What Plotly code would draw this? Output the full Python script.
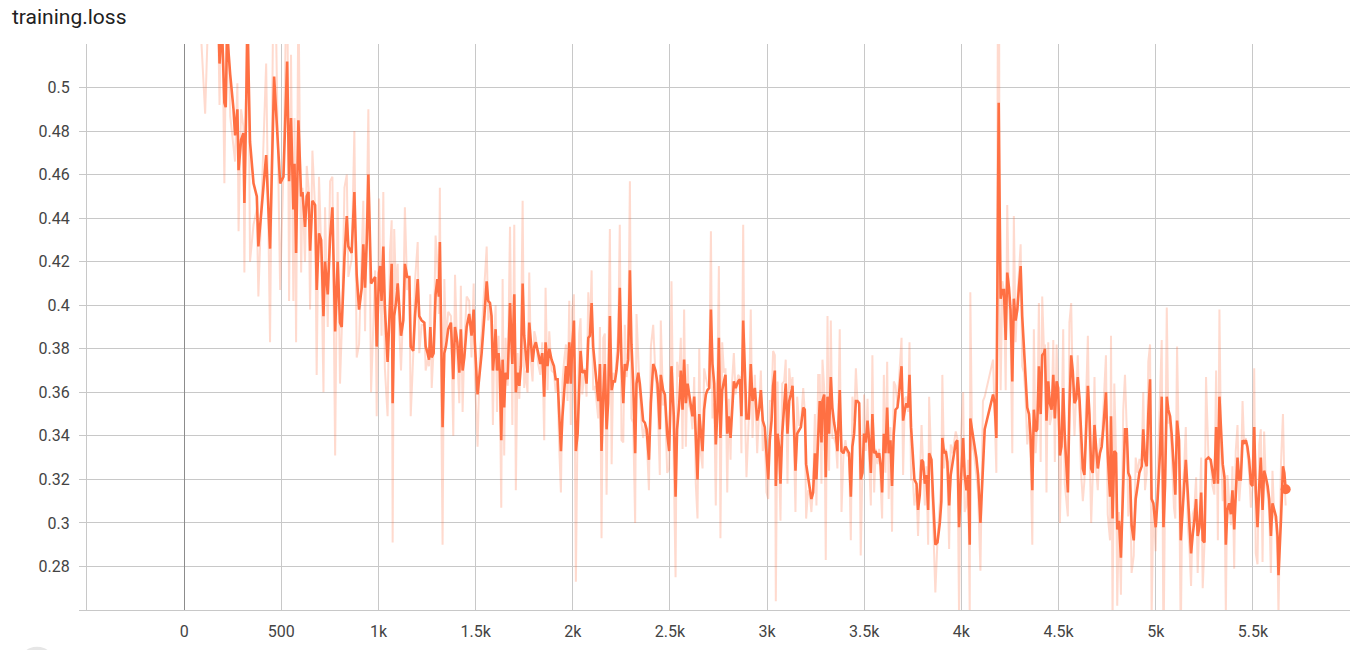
import plotly.graph_objects as go

# ---- data ----
steps_a = [20, 60, 108, 140, 160]
smooth_a = [0.62, 0.59, 0.55, 0.548, 0.54]
raw_a = [0.62, 0.57, 0.488, 0.58, 0.555]

steps_b = [177,182,194,207,214,221,237,254,262,274,280,293,305,310,317,326,339,357,374,382,
           422,442,463,494,511,530,540,550,562,568,576,588,602,609,622,631,640,648,660,674,
           682,694,705,717,725,739,751,763,777,790,802,811,825,837,845,862,876,888,900,914,
           922,931,940,948,962,983,991,1003]
smooth_b = [0.530,0.511,0.530,0.493,0.491,0.525,0.506,0.490,0.478,0.490,0.462,0.476,0.479,0.447,0.480,0.530,0.475,0.456,0.450,0.427,
            0.469,0.426,0.505,0.456,0.459,0.512,0.457,0.486,0.444,0.465,0.424,0.485,0.450,0.452,0.436,0.450,0.452,0.425,0.448,0.446,
            0.407,0.433,0.430,0.395,0.420,0.405,0.431,0.445,0.388,0.420,0.392,0.390,0.422,0.441,0.427,0.424,0.452,0.414,0.398,0.408,
            0.428,0.408,0.430,0.460,0.410,0.413,0.381,0.415]
raw_b = [0.520,0.492,0.549,0.456,0.489,0.559,0.487,0.474,0.466,0.502,0.434,0.490,0.482,0.415,0.513,0.580,0.420,0.437,0.444,0.404,
         0.511,0.383,0.584,0.407,0.462,0.565,0.402,0.515,0.402,0.486,0.383,0.546,0.415,0.454,0.420,0.464,0.454,0.398,0.471,0.444,
         0.368,0.459,0.427,0.360,0.445,0.390,0.457,0.459,0.331,0.452,0.364,0.388,0.454,0.460,0.413,0.421,0.480,0.376,0.382,0.418,
         0.448,0.388,0.452,0.490,0.360,0.416,0.349,0.449]

steps_c = [1008,1016,1025,1033,1047,1059,1068,1073,1081,1090,1099,1105,1116,1128,1136,1148,1159,1166,1179,1188,
           1202,1210,1222,1236,1243,1253,1260,1267,1274,1284,1294,1303,1311,1316,1322,1330,1339,1347,1359,1373,
           1385,1394,1406,1416,1424,1433,1442,1454,1467,1479,1490,1496,1510,1522,1531,1545,1557,1565,1574,1582,
           1589,1596,1603,1610,1618,1625,1632,1639,1647,1654,1665,1677,1689,1699,1707,1716,1725,1733,1742,1750,
           1757,1767,1776,1785,1793,1802,1810,1822,1833,1843,1853,1860,1870,1879,1891,1903,1912,1922,1929]
smooth_c = [0.418,0.402,0.427,0.399,0.374,0.399,0.419,0.355,0.395,0.401,0.410,0.402,0.386,0.393,0.419,0.413,0.413,0.381,0.379,0.395,
            0.412,0.395,0.393,0.392,0.381,0.378,0.375,0.390,0.376,0.378,0.405,0.412,0.404,0.429,0.398,0.344,0.378,0.381,0.389,0.392,
            0.366,0.390,0.383,0.369,0.389,0.370,0.376,0.390,0.396,0.386,0.398,0.383,0.359,0.369,0.378,0.395,0.411,0.402,0.401,0.395,
            0.370,0.378,0.389,0.370,0.378,0.369,0.338,0.375,0.353,0.369,0.366,0.401,0.373,0.405,0.360,0.369,0.363,0.372,0.410,0.386,
            0.378,0.369,0.392,0.383,0.374,0.381,0.383,0.378,0.373,0.378,0.358,0.383,0.372,0.380,0.375,0.372,0.366,0.366,0.352]
raw_c = [0.421,0.386,0.452,0.371,0.349,0.424,0.439,0.291,0.435,0.407,0.419,0.394,0.370,0.400,0.445,0.407,0.413,0.349,0.377,0.411,
         0.429,0.378,0.391,0.391,0.370,0.375,0.372,0.405,0.362,0.380,0.432,0.419,0.396,0.454,0.367,0.290,0.412,0.384,0.397,0.395,
         0.340,0.414,0.376,0.355,0.409,0.351,0.382,0.404,0.402,0.376,0.410,0.368,0.335,0.379,0.387,0.412,0.427,0.393,0.400,0.389,
         0.345,0.386,0.400,0.351,0.386,0.360,0.307,0.412,0.331,0.385,0.363,0.436,0.345,0.437,0.315,0.378,0.357,0.381,0.448,0.362,
         0.370,0.360,0.415,0.374,0.365,0.388,0.385,0.373,0.368,0.383,0.338,0.408,0.361,0.388,0.370,0.369,0.360,0.366,0.338]

steps_d = [1939,1947,1956,1965,1973,1982,1990,1997,2006,2016,2025,2033,2040,2049,2062,2071,2080,2088,2097,2105,
           2114,2122,2131,2140,2148,2157,2165,2174,2182,2191,2200,2208,2217,2225,2234,2242,2251,2260,2268,2277,
           2285,2294,2302,2311,2321,2328,2337,2345,2354,2362,2371,2380,2392,2402,2414,2426,2436,2448,2453,2465,
           2474,2486,2496,2508,2520,2529,2537,2548,2556,2565,2573,2582,2591,2599,2608,2616,2625,2633,2642,2651,
           2659,2668,2676,2685,2693,2702,2711,2719,2728,2736,2745,2752,2760,2769,2778,2786,2795,2803,2812,2820,
           2829,2838,2851]
smooth_d = [0.333,0.349,0.362,0.372,0.364,0.383,0.364,0.381,0.393,0.333,0.341,0.364,0.379,0.369,0.370,0.364,0.385,0.386,0.401,0.381,
            0.372,0.364,0.356,0.373,0.333,0.359,0.373,0.343,0.355,0.395,0.361,0.365,0.365,0.370,0.379,0.408,0.373,0.355,0.373,0.370,
            0.375,0.416,0.382,0.364,0.332,0.364,0.369,0.364,0.355,0.347,0.346,0.343,0.329,0.355,0.373,0.370,0.364,0.343,0.368,0.361,
            0.359,0.341,0.333,0.372,0.349,0.312,0.343,0.355,0.370,0.352,0.375,0.355,0.364,0.359,0.355,0.349,0.358,0.338,0.320,0.350,
            0.341,0.333,0.352,0.359,0.361,0.362,0.398,0.373,0.364,0.336,0.352,0.385,0.339,0.361,0.365,0.368,0.341,0.349,0.339,0.352,
            0.365,0.362,0.365]
raw_d = [0.314,0.365,0.375,0.382,0.356,0.402,0.345,0.398,0.405,0.273,0.349,0.387,0.394,0.359,0.371,0.358,0.406,0.387,0.416,0.361,
         0.363,0.356,0.348,0.390,0.293,0.385,0.387,0.313,0.367,0.435,0.327,0.369,0.365,0.375,0.388,0.437,0.338,0.337,0.391,0.367,
         0.380,0.457,0.348,0.346,0.300,0.396,0.374,0.359,0.346,0.339,0.345,0.340,0.315,0.381,0.391,0.367,0.358,0.322,0.393,0.354,
         0.357,0.323,0.325,0.411,0.326,0.275,0.374,0.367,0.385,0.334,0.398,0.335,0.373,0.354,0.351,0.343,0.367,0.318,0.302,0.380,
         0.332,0.325,0.371,0.366,0.363,0.363,0.434,0.348,0.355,0.308,0.368,0.418,0.293,0.383,0.369,0.371,0.314,0.357,0.329,0.365,
         0.378,0.359,0.368]

steps_e = [2860,2868,2877,2885,2894,2906,2916,2925,2937,2949,2959,2968,2978,2988,2997,3006,3014,3023,3031,3040,
           3045,3054,3062,3069,3078,3088,3096,3105,3114,3122,3131,3139,3146,3155,3165,3174,3186,3194,3201,3211,
           3220,3228,3237,3246,3254,3263,3271,3280,3285,3294,3302,3311,3319,3328,3336,3345,3354,3362,3374,3383,
           3393,3403,3414,3422,3431,3439,3448,3457,3465,3474,3482,3491,3499,3508,3517,3525,3534,3542,3551,3559,
           3568,3577,3585,3592,3601,3609,3618,3626,3635,3643,3652,3661,3671,3679,3692,3700,3709,3717,3726,3733,
           3741,3750,3758,3769,3777]
smooth_e = [0.366,0.349,0.393,0.375,0.348,0.348,0.373,0.356,0.362,0.347,0.352,0.361,0.347,0.344,0.329,0.320,0.338,0.347,0.363,0.370,
            0.317,0.341,0.335,0.318,0.341,0.353,0.364,0.341,0.356,0.359,0.363,0.343,0.324,0.341,0.343,0.344,0.353,0.352,0.327,0.321,
            0.317,0.311,0.314,0.332,0.320,0.344,0.356,0.337,0.356,0.359,0.321,0.358,0.341,0.367,0.353,0.346,0.341,0.333,0.361,0.333,
            0.332,0.335,0.333,0.332,0.312,0.335,0.341,0.356,0.356,0.355,0.320,0.323,0.341,0.337,0.347,0.338,0.323,0.350,0.332,0.333,
            0.330,0.332,0.326,0.314,0.341,0.332,0.353,0.332,0.338,0.317,0.341,0.352,0.353,0.359,0.372,0.347,0.352,0.355,0.353,0.368,
            0.344,0.332,0.320,0.318,0.306]
raw_e = [0.367,0.332,0.437,0.357,0.321,0.348,0.398,0.339,0.368,0.332,0.357,0.370,0.333,0.341,0.314,0.311,0.356,0.356,0.379,0.377,
         0.264,0.365,0.329,0.301,0.364,0.365,0.375,0.318,0.371,0.362,0.367,0.323,0.305,0.358,0.345,0.345,0.362,0.351,0.302,0.315,
         0.313,0.305,0.317,0.350,0.308,0.368,0.368,0.318,0.375,0.362,0.283,0.395,0.324,0.393,0.339,0.339,0.336,0.325,0.389,0.305,
         0.331,0.338,0.331,0.331,0.292,0.358,0.347,0.371,0.356,0.354,0.285,0.326,0.359,0.333,0.357,0.329,0.308,0.377,0.314,0.334,
         0.327,0.334,0.320,0.302,0.368,0.323,0.374,0.311,0.344,0.296,0.365,0.363,0.354,0.365,0.385,0.322,0.357,0.358,0.351,0.383,
         0.320,0.320,0.308,0.316,0.294]

steps_f = [3786,3795,3803,3812,3820,3829,3834,3846,3854,3866,3877,3889,3897,3902,3911,3920,3928,3937,3945,3954,
           3962,3971,3979,3988,3997,4009,4017,4026,4034,4043,4046,4055,4065,4077,4086,4098,4111,4120,4163,4171,
           4180,4192,4197,4202,4211,4219,4228,4236,4245,4253,4262,4270,4279,4288,4296,4305,4313,4322,4330,4339,
           4348,4356,4365,4373,4382,4390,4399,4408,4416,4425,4430,4438,4447,4455,4464,4473,4481,4490,4498,4507,
           4515,4524,4532,4541,4548,4556,4565,4573,4582,4591,4599,4608,4616,4625,4633,4642,4651,4659,4668,4676,
           4685,4693,4702]
smooth_f = [0.313,0.329,0.328,0.318,0.322,0.306,0.332,0.329,0.312,0.290,0.291,0.300,0.310,0.339,0.332,0.333,0.328,0.308,0.322,0.327,
            0.332,0.337,0.338,0.298,0.318,0.339,0.322,0.315,0.322,0.290,0.348,0.342,0.337,0.330,0.322,0.300,0.328,0.343,0.359,0.355,
            0.339,0.493,0.445,0.403,0.407,0.407,0.384,0.415,0.408,0.398,0.365,0.403,0.393,0.398,0.408,0.418,0.395,0.382,0.370,0.353,
            0.350,0.340,0.315,0.352,0.342,0.343,0.372,0.350,0.377,0.378,0.380,0.347,0.365,0.355,0.352,0.368,0.348,0.365,0.362,0.331,
            0.335,0.362,0.340,0.325,0.314,0.353,0.377,0.370,0.355,0.357,0.367,0.357,0.340,0.325,0.322,0.340,0.363,0.350,0.325,0.323,
            0.345,0.335,0.325]
raw_f = [0.320,0.345,0.327,0.308,0.326,0.290,0.358,0.326,0.295,0.268,0.292,0.309,0.320,0.368,0.325,0.334,0.323,0.288,0.336,0.332,
         0.337,0.342,0.339,0.258,0.338,0.360,0.305,0.308,0.329,0.258,0.406,0.336,0.332,0.323,0.314,0.278,0.356,0.358,0.375,0.351,
         0.323,0.647,0.397,0.361,0.411,0.407,0.361,0.446,0.401,0.388,0.332,0.441,0.383,0.403,0.418,0.428,0.372,0.369,0.358,0.336,
         0.347,0.330,0.290,0.389,0.332,0.344,0.401,0.328,0.404,0.379,0.382,0.314,0.383,0.345,0.349,0.384,0.328,0.382,0.359,0.300,
         0.339,0.389,0.318,0.310,0.303,0.392,0.401,0.363,0.340,0.359,0.377,0.347,0.323,0.310,0.319,0.358,0.386,0.337,0.300,0.321,
         0.367,0.325,0.315]

steps_g = [4713,4722,4730,4744,4753,4765,4770,4778,4787,4796,4802,4811,4821,4833,4842,4851,4859,4868,4876,4887,
           4897,4907,4916,4928,4936,4945,4954,4962,4971,4979,4988,5000,5010,5022,5031,5040,5048,5057,5065,5074,
           5082,5094,5101,5110,5120,5129,5137,5146,5155,5165,5174,5182,5191,5199,5208,5216,5225,5234,5242,5251,
           5259,5271,5283,5292,5302,5311,5320,5328,5337,5345,5354,5361,5369,5378,5387,5395,5404,5412,5421,5430,
           5438,5447,5455,5464,5472,5481,5490,5498,5507,5515,5524,5533,5541,5550,5558,5567,5576,5584,5593,5601,
           5610,5619,5627,5632,5645,5655,5662,5669]
smooth_g = [0.332,0.335,0.343,0.360,0.332,0.312,0.349,0.302,0.333,0.332,0.297,0.301,0.284,0.318,0.343,0.343,0.323,0.321,0.299,0.292,
            0.311,0.317,0.323,0.326,0.343,0.329,0.326,0.350,0.366,0.311,0.309,0.298,0.311,0.332,0.358,0.298,0.317,0.358,0.352,0.349,
            0.341,0.324,0.313,0.347,0.338,0.292,0.303,0.314,0.329,0.314,0.301,0.286,0.295,0.301,0.311,0.294,0.298,0.314,0.292,0.291,
            0.329,0.330,0.329,0.323,0.318,0.344,0.318,0.358,0.344,0.327,0.321,0.290,0.306,0.309,0.304,0.315,0.297,0.315,0.330,0.320,
            0.320,0.338,0.337,0.338,0.335,0.329,0.318,0.317,0.344,0.315,0.298,0.317,0.330,0.306,0.324,0.321,0.317,0.311,0.294,0.309,
            0.306,0.303,0.294,0.276,0.302,0.326,0.323,0.3155]
raw_g = [0.339,0.338,0.351,0.377,0.304,0.292,0.386,0.255,0.364,0.331,0.262,0.305,0.267,0.352,0.368,0.343,0.303,0.319,0.277,0.285,
         0.330,0.323,0.329,0.329,0.360,0.315,0.323,0.374,0.382,0.256,0.307,0.287,0.324,0.353,0.384,0.238,0.336,0.399,0.346,0.346,
         0.333,0.307,0.302,0.381,0.329,0.246,0.314,0.325,0.344,0.299,0.288,0.271,0.304,0.307,0.321,0.277,0.302,0.330,0.270,0.290,
         0.367,0.331,0.328,0.317,0.313,0.370,0.292,0.398,0.330,0.310,0.315,0.259,0.322,0.312,0.299,0.326,0.279,0.333,0.345,0.310,
         0.320,0.356,0.336,0.339,0.332,0.323,0.307,0.316,0.371,0.286,0.281,0.336,0.343,0.282,0.342,0.318,0.313,0.305,0.277,0.324,
         0.303,0.300,0.285,0.258,0.328,0.350,0.320,0.308]

steps = steps_a + steps_b + steps_c + steps_d + steps_e + steps_f + steps_g
smoothed = smooth_a + smooth_b + smooth_c + smooth_d + smooth_e + smooth_f + smooth_g
raw = raw_a + raw_b + raw_c + raw_d + raw_e + raw_f + raw_g

x_tickvals = [-500, 0, 500, 1000, 1500, 2000, 2500, 3000, 3500, 4000, 4500, 5000, 5500, 6000]
x_ticktext = ["", "0", "500", "1k", "1.5k", "2k", "2.5k", "3k", "3.5k", "4k", "4.5k", "5k", "5.5k", ""]
y_tickvals = [0.26, 0.28, 0.30, 0.32, 0.34, 0.36, 0.38, 0.40, 0.42, 0.44, 0.46, 0.48, 0.50]
y_ticktext = ["", "0.28", "0.3", "0.32", "0.34", "0.36", "0.38", "0.4", "0.42", "0.44", "0.46", "0.48", "0.5"]

ORANGE = "#ff7043"
GRID = "#c8c8c8"

fig = go.Figure()
fig.add_trace(go.Scatter(x=steps, y=raw, mode="lines",
                         line=dict(color="rgba(255,112,67,0.26)", width=2),
                         hoverinfo="skip", showlegend=False))
fig.add_trace(go.Scatter(x=steps, y=smoothed, mode="lines",
                         line=dict(color=ORANGE, width=2.6),
                         showlegend=False))
fig.add_trace(go.Scatter(x=[steps[-1]], y=[smoothed[-1]], mode="markers",
                         marker=dict(color=ORANGE, size=10),
                         showlegend=False, cliponaxis=False))

fig.update_layout(
    width=1359, height=650,
    margin=dict(l=87, r=9, t=44, b=36),
    paper_bgcolor="white", plot_bgcolor="white",
    font=dict(family="Roboto, Arial, sans-serif", size=16, color="#444444"),
    title=dict(text="training.loss", x=12 / 1359, xref="container", xanchor="left",
               y=1 - 17 / 650, yref="container", yanchor="middle",
               font=dict(family="Roboto, Arial, sans-serif", size=21, color="#212121")),
    xaxis=dict(range=[-500, 6000], tickmode="array", tickvals=x_tickvals, ticktext=x_ticktext,
               showgrid=True, gridcolor=GRID, gridwidth=1,
               zeroline=True, zerolinecolor="#8c8c8c", zerolinewidth=1,
               showline=True, linecolor=GRID, linewidth=1,
               ticks="", ticklabelstandoff=7, fixedrange=True),
    yaxis=dict(range=[0.26, 0.52], tickmode="array", tickvals=y_tickvals, ticktext=y_ticktext,
               showgrid=True, gridcolor=GRID, gridwidth=1, zeroline=False,
               showline=True, linecolor=GRID, linewidth=1,
               ticks="outside", ticklen=7, tickcolor=GRID, ticklabelstandoff=6, fixedrange=True),
    shapes=[dict(type="circle", xref="paper", yref="paper",
                 x0=(19 - 87) / 1263, x1=(55 - 87) / 1263,
                 y0=(610 - 683) / 570, y1=(610 - 647) / 570,
                 fillcolor="#e6e6e6", line=dict(width=0), layer="below")],
)

fig.write_html("out.html", config={"displayModeBar": False})
